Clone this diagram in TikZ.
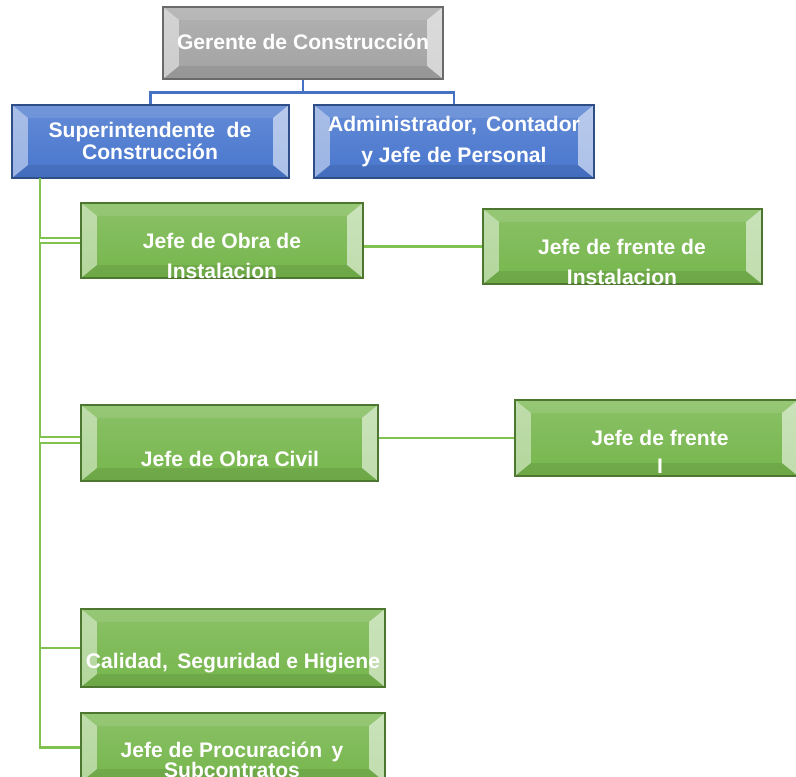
\documentclass[tikz,border=0pt]{standalone}
\usepackage{fontspec}
\setmainfont{Liberation Sans}
\usetikzlibrary{positioning,fit,calc}
\definecolor{verde}{RGB}{118,182,76}
\definecolor{azul}{RGB}{72,118,206}
\definecolor{gris}{RGB}{163,163,163}
\definecolor{linverde}{RGB}{128,194,80}
\definecolor{linazul}{RGB}{70,114,196}
\tikzset{
  bisel/.style={path picture={
      \fill[white,opacity=.45] (path picture bounding box.south west) -- (path picture bounding box.north west)
        -- ([shift={(.32cm,-.26cm)}]path picture bounding box.north west) -- ([shift={(.32cm,.26cm)}]path picture bounding box.south west) -- cycle;
      \fill[white,opacity=.55] (path picture bounding box.south east) -- (path picture bounding box.north east)
        -- ([shift={(-.32cm,-.26cm)}]path picture bounding box.north east) -- ([shift={(-.32cm,.26cm)}]path picture bounding box.south east) -- cycle;
      \fill[white,opacity=.10] (path picture bounding box.north west) -- (path picture bounding box.north east)
        -- ([shift={(-.32cm,-.26cm)}]path picture bounding box.north east) -- ([shift={(.32cm,-.26cm)}]path picture bounding box.north west) -- cycle;
      \fill[black,opacity=.08] (path picture bounding box.south west) -- (path picture bounding box.south east)
        -- ([shift={(-.32cm,.26cm)}]path picture bounding box.south east) -- ([shift={(.32cm,.26cm)}]path picture bounding box.south west) -- cycle;
    }},
  caja/.style={inner sep=0pt, line width=.8pt, draw=#1!65!black, top color=#1!85!white, bottom color=#1, bisel},
  txt/.style={text=white, font=\bfseries\fontsize{12}{14}\selectfont, align=center, inner sep=0pt},
  rama/.style={draw=linverde, line width=1.6pt},
  rama2/.style={draw=linverde, line width=1pt, double=white, double distance=2pt},
}
\begin{document}
\begin{tikzpicture}[x=0.02cm,y=-0.02cm]
  \useasboundingbox (0,0) rectangle (796,777);
  % cajas
  \node[caja=gris, fit={(163,7) (443,79)}] (ger) {};
  \node[caja=azul, fit={(12,105) (289,178)}] (super) {};
  \node[caja=azul, fit={(314,105) (594,178)}] (admin) {};
  \node[caja=verde, fit={(81,203) (363,278)}] (obra) {};
  \node[caja=verde, fit={(483,209) (762,284)}] (finst) {};
  \node[caja=verde, fit={(81,405) (378,481)}] (civil) {};
  \node[caja=verde, fit={(515,400) (798,476)}] (frente) {};
  \node[caja=verde, fit={(81,609) (385,687)}] (cal) {};
  \node[caja=verde, fit={(81,713) (385,782)}] (proc) {};
  % textos
  \node[txt] (tger) at (303,42) {Gerente de Construcción};
  \node[txt] (tsuper) at (150,141) {Superintendente \ de\\[-1.5pt]Construcción};
  \node[txt] (tadmin) at (454,141.5) {Administrador, \,Contador\\[3.6pt] y Jefe de Personal};
  \node[txt] (tobra) at (222,256) {Jefe de Obra de\\[3pt]Instalacion};
  \node[txt] (tfinst) at (622,262) {Jefe de frente de\\[3pt]Instalacion};
  \node[txt] (tcivil) at (230,459) {Jefe de Obra Civil};
  \node[txt] (tfrente) at (660,452) {Jefe de frente\\[2pt]I};
  \node[txt] (tcal) at (233,663) {Calidad, \,Seguridad e Higiene};
  \node[txt] (tproc) at (232,760) {Jefe de Procuración \,y\\[-2.6pt]Subcontratos};
  % conectores
  \draw[draw=linazul, line width=1.4pt] (ger.south) -- ++(0,13) coordinate (nudo) -| (super.north);
  \draw[draw=linazul, line width=1.4pt] (nudo) -| (admin.north);
  \coordinate (tronco) at (40,178);
  \coordinate (pie) at (tronco |- proc.west);
  \draw[rama] (tronco) -- (pie) -- (proc.west);
  \draw[rama2] (tronco |- obra.west) -- (obra.west);
  \draw[rama2] ([yshift=1.7pt]tronco |- civil.west) -- ([yshift=1.7pt]civil.west);
  \draw[rama] (tronco |- cal.west) -- (cal.west);
  \draw[rama] (finst.west -| obra.east) -- (finst.west);
  \draw[rama] (frente.west -| civil.east) -- (frente.west);
\end{tikzpicture}
\end{document}
